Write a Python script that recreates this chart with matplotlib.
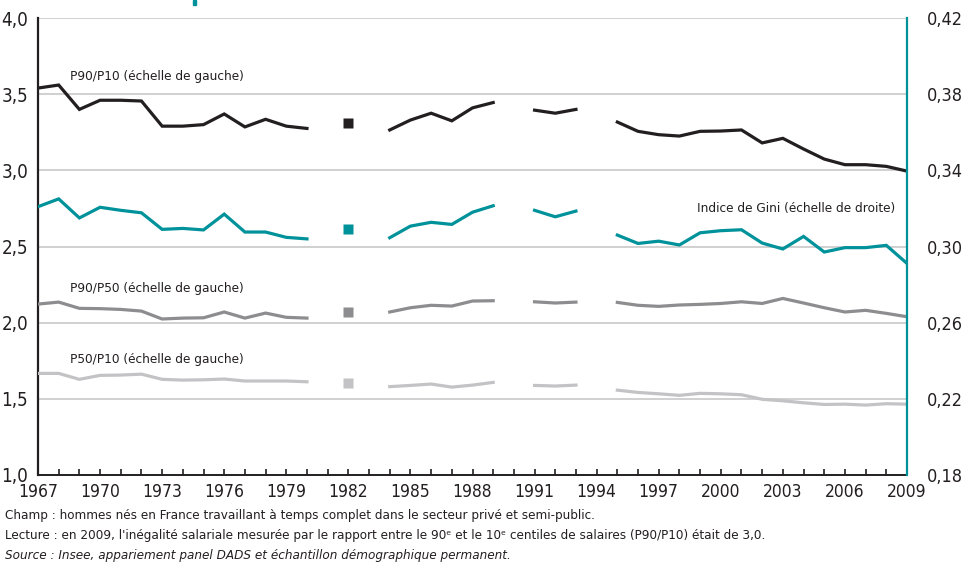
import numpy as np
import matplotlib
matplotlib.use("Agg")
import matplotlib.pyplot as plt
from matplotlib.ticker import FixedLocator, FuncFormatter

plt.rcParams['font.family'] = ['DejaVu Sans']
plt.rcParams['font.stretch'] = 'condensed'

years = list(range(1967, 2010))
nan = np.nan

# P90/P10 (left scale)
p90_p10 = [3.54, 3.56, 3.40, 3.46, 3.46, 3.455, 3.29, 3.29, 3.30, 3.37, 3.285, 3.335, 3.29, 3.275,
           nan, 3.31, nan, 3.265, 3.33, 3.375, 3.325, 3.41, 3.445, nan, 3.395, 3.375, 3.40, nan,
           3.317, 3.256, 3.234, 3.225, 3.256, 3.258, 3.265, 3.18, 3.21, 3.14, 3.074, 3.037, 3.037, 3.026, 2.995]
# Gini index (right scale)
gini = [0.3209, 0.325, 0.315, 0.3206, 0.319, 0.3177, 0.309, 0.3095, 0.3087, 0.317, 0.3076, 0.3076, 0.3048, 0.304,
        nan, 0.309, nan, 0.3046, 0.3107, 0.3127, 0.3116, 0.318, 0.3214, nan, 0.319, 0.3156, 0.3186, nan,
        0.306, 0.3016, 0.3028, 0.3008, 0.3072, 0.3083, 0.3088, 0.3018, 0.2987, 0.3053, 0.2971, 0.2994, 0.2994, 0.3006, 0.2911]
# P90/P50 (left scale)
p90_p50 = [2.122, 2.135, 2.094, 2.092, 2.087, 2.076, 2.024, 2.030, 2.032, 2.07, 2.03, 2.063, 2.035, 2.03,
           nan, 2.07, nan, 2.07, 2.098, 2.114, 2.109, 2.142, 2.144, nan, 2.137, 2.129, 2.135, nan,
           2.133, 2.114, 2.107, 2.116, 2.12, 2.126, 2.137, 2.126, 2.159, 2.129, 2.098, 2.07, 2.081, 2.061, 2.039]
# P50/P10 (left scale)
p50_p10 = [1.667, 1.667, 1.628, 1.654, 1.656, 1.662, 1.628, 1.623, 1.625, 1.63, 1.617, 1.617, 1.617, 1.612,
           nan, 1.601, nan, 1.58, 1.588, 1.597, 1.577, 1.59, 1.608, nan, 1.588, 1.584, 1.59, nan,
           1.557, 1.542, 1.533, 1.523, 1.536, 1.533, 1.527, 1.497, 1.487, 1.474, 1.463, 1.465, 1.459, 1.468, 1.465]

left_ticks = [1.0, 1.5, 2.0, 2.5, 3.0, 3.5, 4.0]
right_ticks = [0.18, 0.22, 0.26, 0.30, 0.34, 0.38, 0.42]
year_labels = list(range(1967, 2010, 3))

BLACK = '#231f20'
TEAL = '#00929b'
DGRAY = '#8d8d90'
LGRAY = '#c3c3c6'
GRID = '#c8c8c8'

fig = plt.figure(figsize=(9.66, 5.64), dpi=100)
ax = fig.add_axes([38/966, 1 - 475/564, (907-38)/966, (475-18)/564])
ax2 = ax.twinx()

ax.set_xlim(1967, 2009)
ax.set_ylim(1.0, 4.0)
ax2.set_ylim(0.18, 0.42)

for v in left_ticks[1:]:
    ax.axhline(v, color=GRID, lw=1.2, zorder=0)


def draw(axis, y, color):
    y = np.asarray(y, dtype=float)
    x = np.asarray(years)
    axis.plot(x, y, color=color, lw=2.3, solid_joinstyle='miter', zorder=3)
    iso = []
    for i in range(len(y)):
        if np.isnan(y[i]):
            continue
        lnan = i == 0 or np.isnan(y[i-1])
        rnan = i == len(y)-1 or np.isnan(y[i+1])
        if lnan and rnan:
            iso.append(i)
    axis.plot(x[iso], y[iso], ls='none', marker='s', ms=7, color=color, mec='none', zorder=3)


draw(ax, p50_p10, LGRAY)
draw(ax, p90_p50, DGRAY)
draw(ax, p90_p10, BLACK)
draw(ax2, gini, TEAL)

comma = FuncFormatter(lambda v, p: f"{v:.1f}".replace('.', ','))
comma2 = FuncFormatter(lambda v, p: f"{v:.2f}".replace('.', ','))

ax.yaxis.set_major_locator(FixedLocator(left_ticks))
ax.yaxis.set_major_formatter(comma)
ax2.yaxis.set_major_locator(FixedLocator(right_ticks))
ax2.yaxis.set_major_formatter(comma2)
ax.tick_params(axis='y', length=0, labelsize=13.5, colors='#231f20', pad=7)
ax2.tick_params(axis='y', length=0, labelsize=13, colors='#231f20', pad=14)

ax.xaxis.set_major_locator(FixedLocator(year_labels))
ax.xaxis.set_minor_locator(FixedLocator(years))
ax.set_xticklabels([str(y) for y in year_labels])
ax.tick_params(axis='x', which='both', direction='in', length=4, width=1.2, color='#231f20',
               labelsize=12.5, pad=6, labelcolor='#231f20')

for a in (ax, ax2):
    a.spines['top'].set_visible(False)
ax.spines['right'].set_visible(False)
ax2.spines['left'].set_visible(False)
ax2.spines['bottom'].set_visible(False)
ax2.spines['right'].set_color(TEAL)
ax2.spines['right'].set_linewidth(1.6)
ax.spines['left'].set_color('#231f20')
ax.spines['left'].set_linewidth(1.6)
ax.spines['bottom'].set_color('#231f20')
ax.spines['bottom'].set_linewidth(1.4)

lab = dict(fontsize=9.7, color='#231f20', va='center', ha='left')
ax.text(1968.55, 3.613, "P90/P10 (échelle de gauche)", **lab)
ax.text(1998.85, 2.752, "Indice de Gini (échelle de droite)", **lab)
ax.text(1968.55, 2.227, "P90/P50 (échelle de gauche)", **lab)
ax.text(1968.55, 1.761, "P50/P10 (échelle de gauche)", **lab)

foot = dict(fontsize=9.6, color='#231f20', va='center', ha='left')
fig.text(5/966, 1 - 515/564, "Champ : hommes nés en France travaillant à temps complet dans le secteur privé et semi-public.", **foot)
fig.text(5/966, 1 - 535/564, "Lecture : en 2009, l'inégalité salariale mesurée par le rapport entre le 90ᵉ et le 10ᵉ centiles de salaires (P90/P10) était de 3,0.", **foot)
fig.text(5/966, 1 - 555/564, "Source : Insee, appariement panel DADS et échantillon démographique permanent.", style='italic', **foot)

# cut-off title fragment at the top
fig.patches.append(plt.Rectangle((193/966, 1 - 5/564), 3/966, 5/564, transform=fig.transFigure,
                                 color=TEAL, zorder=5))

fig.savefig("out.png", dpi=100)
